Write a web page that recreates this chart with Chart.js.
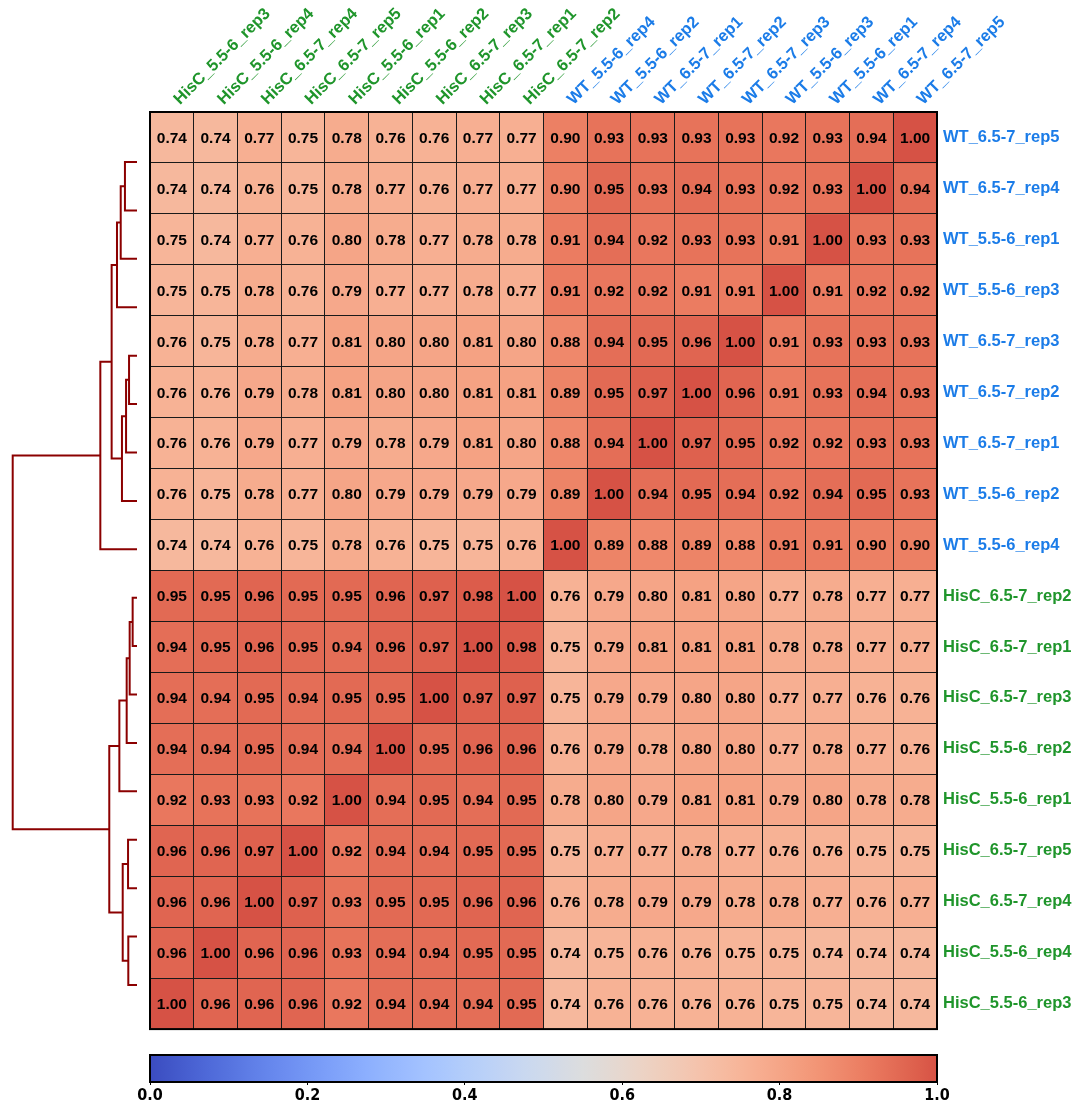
<!DOCTYPE html>
<html>
<head>
<meta charset="utf-8">
<script src="https://cdn.jsdelivr.net/npm/chart.js@4.4.1/dist/chart.umd.min.js"></script>
<style>
  html, body { margin: 0; padding: 0; background: #fff; }
  #wrap { position: relative; width: 1080px; height: 1104px; }
  canvas { position: absolute; left: 0; }
</style>
</head>
<body>
<div id="wrap">
  <canvas id="dendro" width="150" height="1104" style="top:0"></canvas>
  <canvas id="heat" width="1080" height="1045" style="top:0"></canvas>
  <canvas id="cbar" width="1080" height="59" style="top:1045px"></canvas>
</div>
<script>
// row order (top to bottom), same as dendrogram leaves
const rowLabels = [
  'WT_6.5-7_rep5', 'WT_6.5-7_rep4', 'WT_5.5-6_rep1', 'WT_5.5-6_rep3', 'WT_6.5-7_rep3',
  'WT_6.5-7_rep2', 'WT_6.5-7_rep1', 'WT_5.5-6_rep2', 'WT_5.5-6_rep4',
  'HisC_6.5-7_rep2', 'HisC_6.5-7_rep1', 'HisC_6.5-7_rep3', 'HisC_5.5-6_rep2', 'HisC_5.5-6_rep1',
  'HisC_6.5-7_rep5', 'HisC_6.5-7_rep4', 'HisC_5.5-6_rep4', 'HisC_5.5-6_rep3'
];

const colLabels = [
  'HisC_5.5-6_rep3', 'HisC_5.5-6_rep4', 'HisC_6.5-7_rep4', 'HisC_6.5-7_rep5', 'HisC_5.5-6_rep1',
  'HisC_5.5-6_rep2', 'HisC_6.5-7_rep3', 'HisC_6.5-7_rep1', 'HisC_6.5-7_rep2',
  'WT_5.5-6_rep4', 'WT_5.5-6_rep2', 'WT_6.5-7_rep1', 'WT_6.5-7_rep2', 'WT_6.5-7_rep3',
  'WT_5.5-6_rep3', 'WT_5.5-6_rep1', 'WT_6.5-7_rep4', 'WT_6.5-7_rep5'
];

// correlation values, one row per rowLabels entry
const corr = [
  [0.74, 0.74, 0.77, 0.75, 0.78, 0.76, 0.76, 0.77, 0.77, 0.90, 0.93, 0.93, 0.93, 0.93, 0.92, 0.93, 0.94, 1.00],
  [0.74, 0.74, 0.76, 0.75, 0.78, 0.77, 0.76, 0.77, 0.77, 0.90, 0.95, 0.93, 0.94, 0.93, 0.92, 0.93, 1.00, 0.94],
  [0.75, 0.74, 0.77, 0.76, 0.80, 0.78, 0.77, 0.78, 0.78, 0.91, 0.94, 0.92, 0.93, 0.93, 0.91, 1.00, 0.93, 0.93],
  [0.75, 0.75, 0.78, 0.76, 0.79, 0.77, 0.77, 0.78, 0.77, 0.91, 0.92, 0.92, 0.91, 0.91, 1.00, 0.91, 0.92, 0.92],
  [0.76, 0.75, 0.78, 0.77, 0.81, 0.80, 0.80, 0.81, 0.80, 0.88, 0.94, 0.95, 0.96, 1.00, 0.91, 0.93, 0.93, 0.93],
  [0.76, 0.76, 0.79, 0.78, 0.81, 0.80, 0.80, 0.81, 0.81, 0.89, 0.95, 0.97, 1.00, 0.96, 0.91, 0.93, 0.94, 0.93],
  [0.76, 0.76, 0.79, 0.77, 0.79, 0.78, 0.79, 0.81, 0.80, 0.88, 0.94, 1.00, 0.97, 0.95, 0.92, 0.92, 0.93, 0.93],
  [0.76, 0.75, 0.78, 0.77, 0.80, 0.79, 0.79, 0.79, 0.79, 0.89, 1.00, 0.94, 0.95, 0.94, 0.92, 0.94, 0.95, 0.93],
  [0.74, 0.74, 0.76, 0.75, 0.78, 0.76, 0.75, 0.75, 0.76, 1.00, 0.89, 0.88, 0.89, 0.88, 0.91, 0.91, 0.90, 0.90],
  [0.95, 0.95, 0.96, 0.95, 0.95, 0.96, 0.97, 0.98, 1.00, 0.76, 0.79, 0.80, 0.81, 0.80, 0.77, 0.78, 0.77, 0.77],
  [0.94, 0.95, 0.96, 0.95, 0.94, 0.96, 0.97, 1.00, 0.98, 0.75, 0.79, 0.81, 0.81, 0.81, 0.78, 0.78, 0.77, 0.77],
  [0.94, 0.94, 0.95, 0.94, 0.95, 0.95, 1.00, 0.97, 0.97, 0.75, 0.79, 0.79, 0.80, 0.80, 0.77, 0.77, 0.76, 0.76],
  [0.94, 0.94, 0.95, 0.94, 0.94, 1.00, 0.95, 0.96, 0.96, 0.76, 0.79, 0.78, 0.80, 0.80, 0.77, 0.78, 0.77, 0.76],
  [0.92, 0.93, 0.93, 0.92, 1.00, 0.94, 0.95, 0.94, 0.95, 0.78, 0.80, 0.79, 0.81, 0.81, 0.79, 0.80, 0.78, 0.78],
  [0.96, 0.96, 0.97, 1.00, 0.92, 0.94, 0.94, 0.95, 0.95, 0.75, 0.77, 0.77, 0.78, 0.77, 0.76, 0.76, 0.75, 0.75],
  [0.96, 0.96, 1.00, 0.97, 0.93, 0.95, 0.95, 0.96, 0.96, 0.76, 0.78, 0.79, 0.79, 0.78, 0.78, 0.77, 0.76, 0.77],
  [0.96, 1.00, 0.96, 0.96, 0.93, 0.94, 0.94, 0.95, 0.95, 0.74, 0.75, 0.76, 0.76, 0.75, 0.75, 0.74, 0.74, 0.74],
  [1.00, 0.96, 0.96, 0.96, 0.92, 0.94, 0.94, 0.94, 0.95, 0.74, 0.76, 0.76, 0.76, 0.76, 0.75, 0.75, 0.74, 0.74]
];

// linkage: [childA, childB, height]; ids < 18 are leaves (rows), 18+ are earlier merges
const linkage = [
  [0, 1, 0.097], [18, 2, 0.131], [19, 3, 0.161],
  [4, 5, 0.064], [21, 6, 0.088], [22, 7, 0.121],
  [20, 23, 0.204], [24, 8, 0.295],
  [9, 10, 0.035], [26, 11, 0.059], [27, 12, 0.083], [28, 13, 0.142],
  [14, 15, 0.072], [16, 17, 0.070], [30, 31, 0.115],
  [29, 32, 0.223], [25, 33, 1.0]
];

const cbarTicks = [0, 0.2, 0.4, 0.6, 0.8, 1.0];

const GREEN = '#1f952b';
const BLUE = '#1b7ce8';
const labelColor = (s) => s.startsWith('WT') ? BLUE : GREEN;

// coolwarm, sampled every 1/16
const coolwarm = [
  [59, 76, 192], [77, 104, 215], [98, 130, 234], [119, 154, 247], [141, 176, 254],
  [163, 194, 255], [184, 208, 249], [204, 217, 238], [221, 221, 221], [236, 211, 197],
  [245, 196, 173], [247, 177, 148], [244, 154, 123], [236, 127, 99], [222, 96, 77],
  [203, 62, 56], [180, 4, 38]
];
// the colour range only reaches ~0.9 of coolwarm at value 1.0
const cmap = (v) => {
  const t = Math.max(0, Math.min(1, v)) * 0.9 * 16;
  const i = Math.min(15, Math.floor(t));
  const f = t - i;
  const a = coolwarm[i], b = coolwarm[i + 1];
  const c = a.map((x, k) => Math.round(x + (b[k] - x) * f));
  return `rgb(${c[0]},${c[1]},${c[2]})`;
};

const frame = {
  id: 'frame',
  afterDraw(chart) {
    const { ctx, chartArea: a } = chart;
    ctx.save();
    ctx.strokeStyle = '#000';
    ctx.lineWidth = 2;
    ctx.strokeRect(a.left, a.top, a.right - a.left, a.bottom - a.top);
    ctx.restore();
  }
};

const cellText = {
  id: 'cellText',
  afterDatasetsDraw(chart) {
    const ctx = chart.ctx;
    ctx.save();
    ctx.font = 'bold 15.5px "Liberation Sans", Arial, sans-serif';
    ctx.fillStyle = '#000';
    ctx.textAlign = 'center';
    ctx.textBaseline = 'middle';
    chart.data.datasets.forEach((ds, i) => {
      chart.getDatasetMeta(i).data.forEach((el, j) => {
        ctx.fillText(corr[i][j].toFixed(2), el.x, (el.y + el.base) / 2 + 1);
      });
    });
    ctx.restore();
  }
};

const labelFont = { family: '"Liberation Sans", Arial, sans-serif', size: 16.5, weight: 'bold' };

new Chart(document.getElementById('heat'), {
  type: 'bar',
  data: {
    labels: colLabels,
    datasets: rowLabels.map((r, i) => ({
      label: r,
      data: colLabels.map(() => [i, i + 1]),
      backgroundColor: corr[i].map(cmap),
      borderWidth: 0,
      grouped: false,
      barPercentage: 1,
      categoryPercentage: 1,
      yAxisID: 'y'
    }))
  },
  options: {
    responsive: false,
    animation: false,
    layout: { padding: { left: 150, top: 0, right: 0, bottom: 10 } },
    plugins: { legend: { display: false }, tooltip: { enabled: false } },
    scales: {
      x: {
        position: 'top',
        offset: true,
        grid: { offset: true, color: '#1a1a1a', lineWidth: 1, drawTicks: false, z: 1 },
        border: { display: false },
        ticks: {
          autoSkip: false,
          minRotation: 45,
          maxRotation: 45,
          padding: 3,
          labelOffset: 19,
          font: labelFont,
          color: (c) => labelColor(colLabels[c.index] || '')
        },
        afterFit: (s) => { s.height = 112; }
      },
      y: { type: 'linear', min: 0, max: 18, reverse: true, display: false },
      yr: {
        type: 'category',
        labels: rowLabels,
        position: 'right',
        offset: true,
        grid: { offset: true, color: '#1a1a1a', lineWidth: 1, drawTicks: false, z: 1 },
        border: { display: false },
        ticks: {
          padding: 6,
          font: labelFont,
          color: (c) => labelColor(rowLabels[c.index] || '')
        },
        afterFit: (s) => { s.width = 143; }
      }
    }
  },
  plugins: [cellText, frame]
});

// dendrogram: each merge becomes a U-shaped line through the chart's scales
const nodeY = rowLabels.map((_, i) => i);
const nodeH = rowLabels.map(() => 0);
const links = linkage.map(([a, b, h]) => {
  const seg = [
    { x: nodeH[a], y: nodeY[a] }, { x: h, y: nodeY[a] },
    { x: h, y: nodeY[b] }, { x: nodeH[b], y: nodeY[b] }
  ];
  nodeY.push((nodeY[a] + nodeY[b]) / 2);
  nodeH.push(h);
  return seg;
});

new Chart(document.getElementById('dendro'), {
  type: 'scatter',
  data: {
    datasets: links.map(seg => ({
      data: seg,
      showLine: true,
      borderColor: '#8b0000',
      borderWidth: 2,
      pointRadius: 0,
      tension: 0,
      clip: false
    }))
  },
  options: {
    responsive: false,
    animation: false,
    layout: { padding: { left: 12.7, right: 13, top: 162, bottom: 119 } },
    plugins: { legend: { display: false }, tooltip: { enabled: false } },
    scales: {
      x: { type: 'linear', min: 0, max: 1, reverse: true, display: false },
      y: { type: 'linear', min: 0, max: rowLabels.length - 1, reverse: true, display: false }
    }
  }
});

// colour bar
new Chart(document.getElementById('cbar'), {
  type: 'bar',
  data: {
    labels: ['r'],
    datasets: [{
      data: [[0, 1]],
      barPercentage: 1,
      categoryPercentage: 1,
      borderWidth: 0,
      backgroundColor: (c) => {
        const a = c.chart.chartArea;
        if (!a) return '#ccc';
        const g = c.chart.ctx.createLinearGradient(a.left, 0, a.right, 0);
        for (let k = 0; k <= 40; k++) g.addColorStop(k / 40, cmap(k / 40));
        return g;
      }
    }]
  },
  options: {
    indexAxis: 'y',
    responsive: false,
    animation: false,
    layout: { padding: { left: 150, right: 143, top: 10, bottom: 0 } },
    plugins: { legend: { display: false }, tooltip: { enabled: false } },
    scales: {
      x: {
        type: 'linear',
        min: 0,
        max: 1,
        afterBuildTicks: (s) => { s.ticks = cbarTicks.map(v => ({ value: v })); },
        ticks: {
          callback: (v) => Number(v).toFixed(1),
          color: '#000',
          padding: 1,
          font: { family: '"Liberation Sans Narrow", "DejaVu Sans Condensed", "Liberation Sans", sans-serif', size: 16, weight: 'bold' }
        },
        grid: { drawOnChartArea: false, tickLength: 3, color: '#000' },
        border: { display: false },
        afterFit: (s) => { s.height = 22; }
      },
      y: { display: false }
    }
  },
  plugins: [frame]
});
</script>
</body>
</html>
